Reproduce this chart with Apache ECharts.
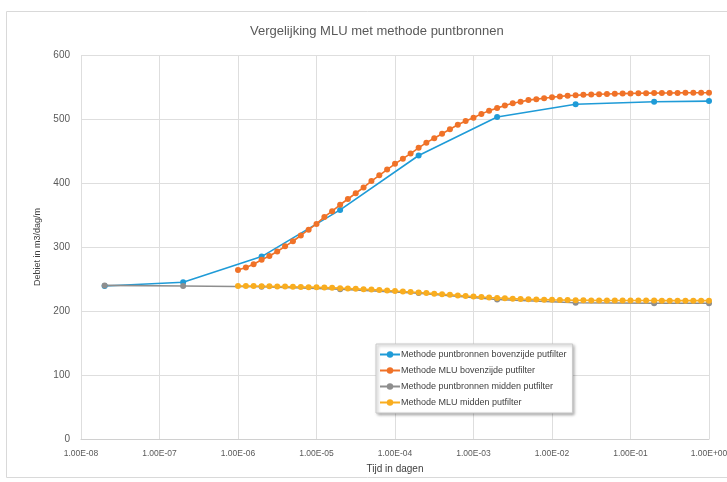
<!DOCTYPE html>
<html>
<head>
<meta charset="utf-8">
<script src="https://cdn.jsdelivr.net/npm/echarts@6/dist/echarts.min.js"></script>
<style>html,body{margin:0;padding:0;background:#fff}#c{width:727px;height:482px}</style>
</head>
<body>
<div id="c"></div>
<script>
// Tick labels / axis
const xTicks = ['1.00E-08','1.00E-07','1.00E-06','1.00E-05','1.00E-04','1.00E-03','1.00E-02','1.00E-01','1.00E+00'];
const yMin = 0, yMax = 600, yStep = 100;

// Methode puntbronnen (time in days)
const puntX = [2e-8, 2e-7, 2e-6, 2e-5, 2e-4, 2e-3, 2e-2, 2e-1, 1];
const puntBoven = [239, 245, 285, 358, 443, 503, 523, 527, 528];
const puntMidden = [240, 239, 238, 234, 228, 218, 213, 212, 212];

// Methode MLU (time in days)
const mluX = [
  1.00e-6, 1.26e-6, 1.58e-6, 2.00e-6, 2.51e-6, 3.16e-6, 3.98e-6, 5.01e-6, 6.31e-6, 7.94e-6,
  1.00e-5, 1.26e-5, 1.58e-5, 2.00e-5, 2.51e-5, 3.16e-5, 3.98e-5, 5.01e-5, 6.31e-5, 7.94e-5,
  1.00e-4, 1.26e-4, 1.58e-4, 2.00e-4, 2.51e-4, 3.16e-4, 3.98e-4, 5.01e-4, 6.31e-4, 7.94e-4,
  1.00e-3, 1.26e-3, 1.58e-3, 2.00e-3, 2.51e-3, 3.16e-3, 3.98e-3, 5.01e-3, 6.31e-3, 7.94e-3,
  1.00e-2, 1.26e-2, 1.58e-2, 2.00e-2, 2.51e-2, 3.16e-2, 3.98e-2, 5.01e-2, 6.31e-2, 7.94e-2,
  1.00e-1, 1.26e-1, 1.58e-1, 2.00e-1, 2.51e-1, 3.16e-1, 3.98e-1, 5.01e-1, 6.31e-1, 7.94e-1,
  1.00
];
const mluBoven = [
  264, 268, 273, 280, 286, 293, 301, 309, 318, 327,
  336, 347, 356, 366, 375, 384, 393, 403, 412, 421,
  430, 438, 446, 455, 463, 470, 477, 484, 491, 497,
  502, 508, 513, 517, 521, 524.5, 527, 529.5, 531, 532.5,
  534, 535.3, 536.3, 537, 537.7, 538.2, 538.6, 539, 539.4, 539.7,
  540, 540.2, 540.4, 540.5, 540.6, 540.7, 540.8, 540.9, 541, 541,
  541
];
const mluMidden = [
  239, 239, 238.9, 238.7, 238.5, 238.3, 238.1, 237.9, 237.6, 237.3,
  237, 236.6, 236.2, 235.7, 235.2, 234.6, 234, 233.4, 232.7, 232,
  231.3, 230.5, 229.7, 228.9, 228, 227.1, 226.2, 225.3, 224.4, 223.5,
  222.7, 221.9, 221.2, 220.5, 219.9, 219.3, 218.8, 218.4, 218, 217.7,
  217.4, 217.2, 217, 216.8, 216.7, 216.6, 216.5, 216.4, 216.4, 216.3,
  216.3, 216.3, 216.3, 216.3, 216.2, 216.2, 216.2, 216.2, 216.2, 216.2,
  216.2
];

const seriesNames = [
  'Methode puntbronnen bovenzijde putfilter',
  'Methode MLU bovenzijde putfilter',
  'Methode puntbronnen midden putfilter',
  'Methode MLU midden putfilter'
];
const colors = ['#1f9bd7', '#f07228', '#8e8e8e', '#f9ad1f'];

function pairs(xs, ys) { return xs.map((x, i) => [x, ys[i]]); }
function fmtX(v) {
  const e = Math.round(Math.log10(v));
  return xTicks[e + 8] !== undefined ? xTicks[e + 8] : '';
}

const FONT = 'Liberation Sans';
const chart = echarts.init(document.getElementById('c'));
function mk(name, xs, ys, color) {
  return {
    name, type: 'line', data: pairs(xs, ys),
    symbol: 'circle', symbolSize: 6,
    lineStyle: { color, width: 1.6 },
    itemStyle: { color },
    animation: false
  };
}
chart.setOption({
  animation: false,
  textStyle: { fontFamily: FONT },
  graphic: [{
    type: 'rect', shape: { x: 6.5, y: 11.5, width: 760, height: 466 },
    style: { fill: 'none', stroke: '#d9d9d9', lineWidth: 1 }, z: -1
  }],
  title: {
    text: 'Vergelijking MLU met methode puntbronnen',
    left: 245, top: 20,
    textStyle: { fontFamily: FONT, fontSize: 13, fontWeight: 'normal', color: '#595959' }
  },
  grid: { left: 81, right: 18, top: 55, bottom: 43, containLabel: false, outerBoundsMode: 'none' },
  xAxis: {
    type: 'log', logBase: 10, min: 1e-8, max: 1, splitNumber: 8,
    name: 'Tijd in dagen', nameLocation: 'middle', nameGap: 25,
    nameTextStyle: { fontFamily: FONT, fontSize: 10, color: '#404040' },
    axisLine: { show: true, lineStyle: { color: '#d0d0d0' } },
    axisTick: { show: false },
    axisLabel: { formatter: fmtX, fontSize: 8.5, color: '#595959', margin: 10, showMaxLabel: true },
    splitLine: { show: true, lineStyle: { color: '#dedede' } },
    minorSplitLine: { show: false }
  },
  yAxis: {
    type: 'value', min: yMin, max: yMax, interval: yStep,
    name: 'Debiet in m3/dag/m', nameLocation: 'middle', nameGap: 38,
    nameTextStyle: { fontFamily: FONT, fontSize: 9, color: '#404040' },
    axisLine: { show: false }, axisTick: { show: false },
    axisLabel: { fontSize: 10, color: '#595959', margin: 11 },
    splitLine: { show: true, lineStyle: { color: '#dedede' } }
  },
  legend: {
    orient: 'vertical', left: 376, top: 344,
    data: seriesNames,
    itemWidth: 20, itemHeight: 8, itemGap: 7,
    padding: [6, 6, 6, 3],
    backgroundColor: '#ffffff',
    borderColor: '#c8c8c8', borderWidth: 1,
    shadowColor: 'rgba(0,0,0,0.35)', shadowBlur: 3, shadowOffsetX: 1.5, shadowOffsetY: 1.5,
    textStyle: { fontFamily: FONT, fontSize: 9, color: '#404040', padding: [0, 0, 0, -4] }
  },
  series: [
    mk(seriesNames[0], puntX, puntBoven, colors[0]),
    mk(seriesNames[1], mluX, mluBoven, colors[1]),
    mk(seriesNames[2], puntX, puntMidden, colors[2]),
    mk(seriesNames[3], mluX, mluMidden, colors[3])
  ]
});
</script>
</body>
</html>
